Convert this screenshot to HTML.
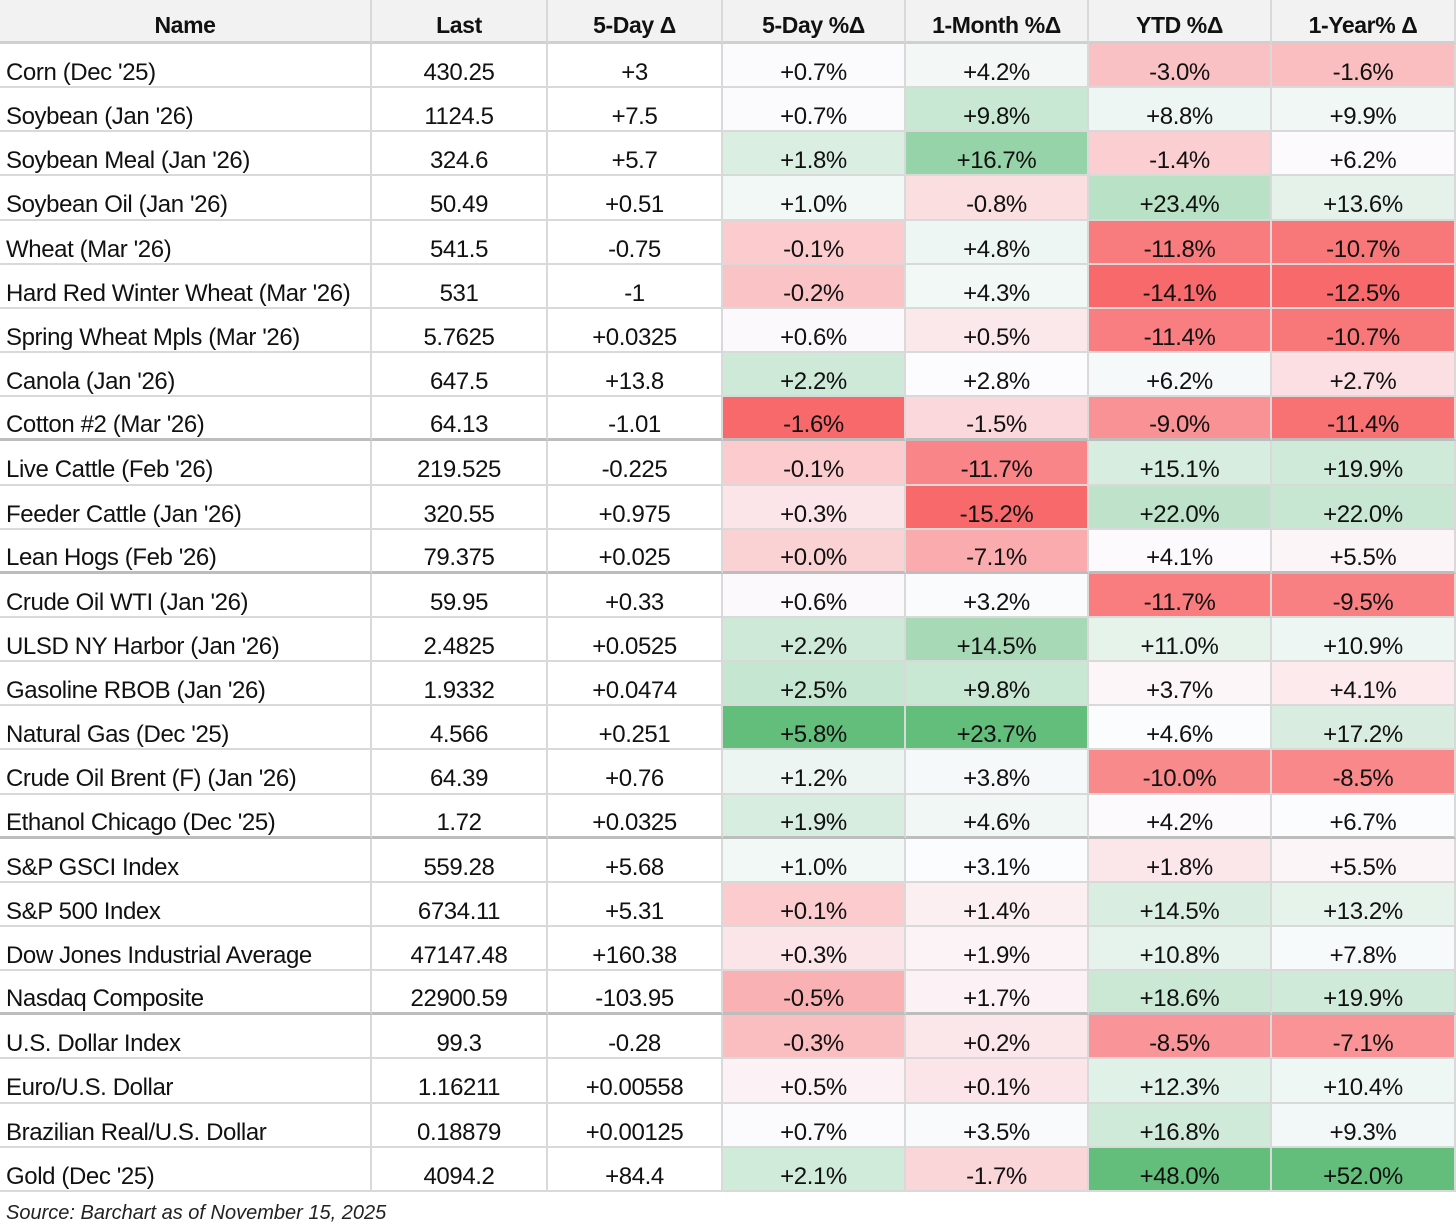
<!DOCTYPE html>
<html><head><meta charset="utf-8"><style>
body{margin:0;width:1456px;height:1230px;background:#fff;font-family:"Liberation Sans",sans-serif;overflow:hidden;position:relative}
.c{position:absolute;box-sizing:border-box;border-right:2px solid #d9d9d9;border-bottom:2px solid #d9d9d9;display:flex;align-items:center;justify-content:center;font-size:24px;color:#111;letter-spacing:-0.4px;padding-top:15px}
.c.n{justify-content:flex-start;padding-left:6px}
.h{font-weight:bold;background:#f2f2f2;border-bottom:3px solid #d0d0d0;padding-top:10px;font-size:23px}
.sep{border-bottom:3px solid #bdbdbd}
#src{position:absolute;left:6px;top:1202px;font-size:20px;font-style:italic;color:#222}
</style></head><body>
<div id="t"></div>
<div id="src">Source: Barchart as of November 15, 2025</div>
<script>
const headers=["Name","Last","5-Day Δ","5-Day %Δ","1-Month %Δ","YTD %Δ","1-Year% Δ"];
const names=["Corn (Dec '25)","Soybean (Jan '26)","Soybean Meal (Jan '26)","Soybean Oil (Jan '26)","Wheat (Mar '26)","Hard Red Winter Wheat (Mar '26)","Spring Wheat Mpls (Mar '26)","Canola (Jan '26)","Cotton #2 (Mar '26)","Live Cattle (Feb '26)","Feeder Cattle (Jan '26)","Lean Hogs (Feb '26)","Crude Oil WTI (Jan '26)","ULSD NY Harbor (Jan '26)","Gasoline RBOB (Jan '26)","Natural Gas (Dec '25)","Crude Oil Brent (F) (Jan '26)","Ethanol Chicago (Dec '25)","S&P GSCI Index","S&P 500 Index","Dow Jones Industrial Average","Nasdaq Composite","U.S. Dollar Index","Euro/U.S. Dollar","Brazilian Real/U.S. Dollar","Gold (Dec '25)"];
const last=["430.25","1124.5","324.6","50.49","541.5","531","5.7625","647.5","64.13","219.525","320.55","79.375","59.95","2.4825","1.9332","4.566","64.39","1.72","559.28","6734.11","47147.48","22900.59","99.3","1.16211","0.18879","4094.2"];
const d5=["+3","+7.5","+5.7","+0.51","-0.75","-1","+0.0325","+13.8","-1.01","-0.225","+0.975","+0.025","+0.33","+0.0525","+0.0474","+0.251","+0.76","+0.0325","+5.68","+5.31","+160.38","-103.95","-0.28","+0.00558","+0.00125","+84.4"];
const p5=[0.7,0.7,1.8,1.0,-0.1,-0.2,0.6,2.2,-1.6,-0.1,0.3,0.0,0.6,2.2,2.5,5.8,1.2,1.9,1.0,-0.1,0.3,-0.5,-0.3,0.5,0.7,2.1];
const p5s=[null,null,null,null,null,null,null,null,null,null,null,null,null,null,null,null,null,null,null,"+0.1%",null,null,null,null,null,null];
const p1m=[4.2,9.8,16.7,-0.8,4.8,4.3,0.5,2.8,-1.5,-11.7,-15.2,-7.1,3.2,14.5,9.8,23.7,3.8,4.6,3.1,1.4,1.9,1.7,0.2,0.1,3.5,-1.7];
const ytd=[-3.0,8.8,-1.4,23.4,-11.8,-14.1,-11.4,6.2,-9.0,15.1,22.0,4.1,-11.7,11.0,3.7,4.6,-10.0,4.2,1.8,14.5,10.8,18.6,-8.5,12.3,16.8,48.0];
const p1y=[-1.6,9.9,6.2,13.6,-10.7,-12.5,-10.7,2.7,-11.4,19.9,22.0,5.5,-9.5,10.9,4.1,17.2,-8.5,6.7,5.5,13.2,7.8,19.9,-7.1,10.4,9.3,52.0];
const seps=[8,11,17,21];
const colX=[0,372,548,723,906,1089,1272,1456];
const colNames=["name","last","five-day-change","five-day-pct","one-month-pct","ytd-pct","one-year-pct"];
const RH=44.15,TOP=44;
const t=document.getElementById('t');
function median(a){const s=[...a].sort((x,y)=>x-y);const n=s.length;const p=(n-1)*0.5;const lo=Math.floor(p);return s[lo]+(s[Math.ceil(p)]-s[lo])*(p-lo);}
function mix(a,b,f){return a.map((v,i)=>Math.round(v+(b[i]-v)*f));}
function scale(arr){const mn=Math.min(...arr),mx=Math.max(...arr),md=median(arr);
 const R=[248,105,107],W=[252,252,255],G=[99,190,123];
 return v=>{let c;if(v<=md)c=mix(R,W,md===mn?1:(v-mn)/(md-mn));else c=mix(W,G,(v-md)/(mx-md));return `rgb(${c})`;};}
function fmt(v){return (v>=0?"+":"")+v.toFixed(1)+"%";}
function cell(x0,x1,y0,y1,txt,cls,name,bg){const d=document.createElement('div');d.className='c '+cls;
 
 
 d.style.left=x0+'px';d.style.width=(x1-x0)+'px';d.style.top=y0+'px';d.style.height=(y1-y0)+'px';if(bg)d.style.background=bg;d.textContent=txt;t.appendChild(d);}
headers.forEach((h,j)=>cell(colX[j],colX[j+1],0,TOP,h,'h','header-'+colNames[j]));
const pcts=[p5,p1m,ytd,p1y];const scales=pcts.map(scale);
names.forEach((nm,i)=>{const y0=Math.round(TOP+i*RH),y1=Math.round(TOP+(i+1)*RH);const sc=seps.includes(i)?'sep':'';
 const vals=[nm,last[i],d5[i]];
 vals.forEach((v,j)=>cell(colX[j],colX[j+1],y0,y1,v,(j==0?'n ':'')+sc,colNames[j]+'-cell'));
 pcts.forEach((arr,k)=>{const txt=(k==0&&p5s[i])?p5s[i]:fmt(arr[i]);cell(colX[k+3],colX[k+4],y0,y1,txt,sc,colNames[k+3]+'-cell',scales[k](arr[i]));});
});
</script>
</body></html>
